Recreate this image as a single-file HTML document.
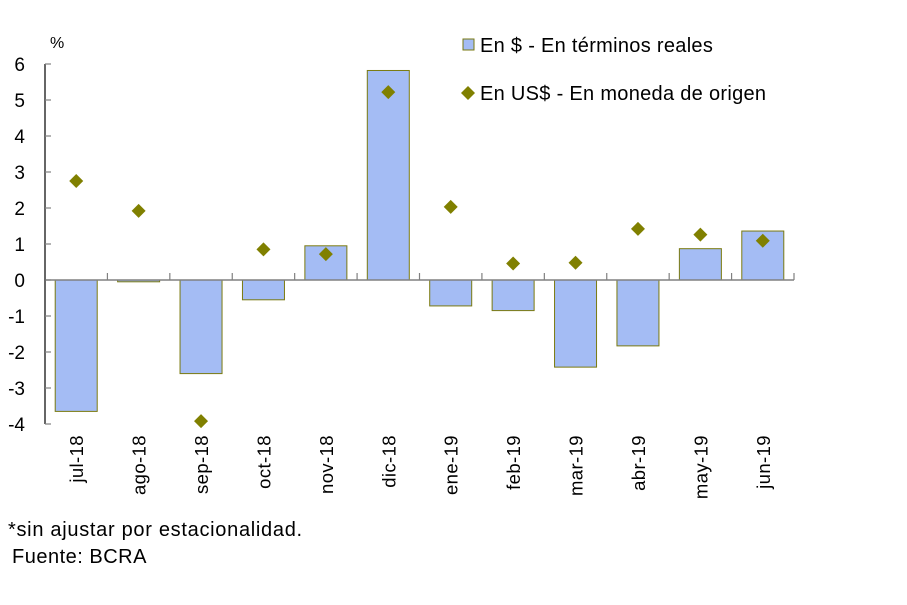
<!DOCTYPE html>
<html><head><meta charset="utf-8"><style>
body{margin:0;background:#fff;}
svg{display:block;font-family:"Liberation Sans",sans-serif;}
</style></head><body>
<svg id="chart" width="907" height="605" viewBox="0 0 907 605" xmlns="http://www.w3.org/2000/svg">
<g id="plot"></g>
<text x="50" y="48" font-size="16">%</text>
<g>
<rect x="463" y="39" width="11" height="11" fill="#a4bcf4" stroke="#7a7a10"/>
<text x="480" y="52" font-size="20" letter-spacing="0.3">En $ - En términos reales</text>
<path d="M468,86 L475,93 L468,100 L461,93 Z" fill="#808000"/>
<text x="480" y="100" font-size="20" letter-spacing="0.3">En US$ - En moneda de origen</text>
</g>
<text x="8" y="536" font-size="20" letter-spacing="0.7">*sin ajustar por estacionalidad.</text>
<text x="12" y="563" font-size="20" letter-spacing="0.5">Fuente: BCRA</text>
</svg>
<script>
const categories=["jul-18","ago-18","sep-18","oct-18","nov-18","dic-18","ene-19","feb-19","mar-19","abr-19","may-19","jun-19"];
const realPesos=[-3.65,-0.05,-2.6,-0.55,0.95,5.82,-0.72,-0.85,-2.42,-1.83,0.87,1.36];
const usdOrigin=[2.75,1.92,-3.92,0.85,0.72,5.22,2.03,0.46,0.48,1.42,1.26,1.09];
const yTicks=[6,5,4,3,2,1,0,-1,-2,-3,-4];
const NS="http://www.w3.org/2000/svg";
const g=document.getElementById('plot');
const x0=45,x1=794,yTop=64,yBot=424,vMax=6,vMin=-4;
const band=(x1-x0)/categories.length;
function y(v){return yTop+(vMax-v)/(vMax-vMin)*(yBot-yTop);}
function xc(i){return x0+band*(i+0.5);}
function mk(t,a){const e=document.createElementNS(NS,t);for(const k in a)e.setAttribute(k,a[k]);g.appendChild(e);return e;}
realPesos.forEach((v,i)=>{
 const r=mk('rect',{x:xc(i)-21,y:Math.min(y(v),y(0)),width:42,height:Math.max(1,Math.abs(y(v)-y(0))),fill:'#a4bcf4',stroke:'#7a7a10','stroke-width':1});
 
 
});
const zl=mk('line',{x1:x0,x2:x1,y1:y(0),y2:y(0),stroke:'#808080','stroke-width':1.5});


for(let i=1;i<=categories.length;i++){
 const t=mk('line',{x1:x0+band*i,x2:x0+band*i,y1:y(0),y2:y(0)-7,stroke:'#808080','stroke-width':1.2});
 
 
}
const ax=mk('line',{x1:x0,x2:x0,y1:yTop,y2:yBot,stroke:'#000','stroke-width':1.2});


yTicks.forEach(v=>{
 const t=mk('line',{x1:x0,x2:x0+6,y1:y(v),y2:y(v),stroke:'#808080','stroke-width':1.2});
 
 
 const l=mk('text',{x:25,y:y(v)+7,'font-size':19,'text-anchor':'end'});
 l.textContent=v;
 
 
});
usdOrigin.forEach((v,i)=>{
 const cx=xc(i),cy=y(v);
 const d=mk('path',{d:`M${cx},${cy-7} L${cx+7},${cy} L${cx},${cy+7} L${cx-7},${cy} Z`,fill:'#808000'});
 
 
});
categories.forEach((c,i)=>{
 const l=mk('text',{x:0,y:0,'font-size':18.5,'letter-spacing':0.4,'text-anchor':'end',transform:`translate(${xc(i)+7},435) rotate(-90)`});
 l.textContent=c;
 
 
});
</script>
</body></html>
